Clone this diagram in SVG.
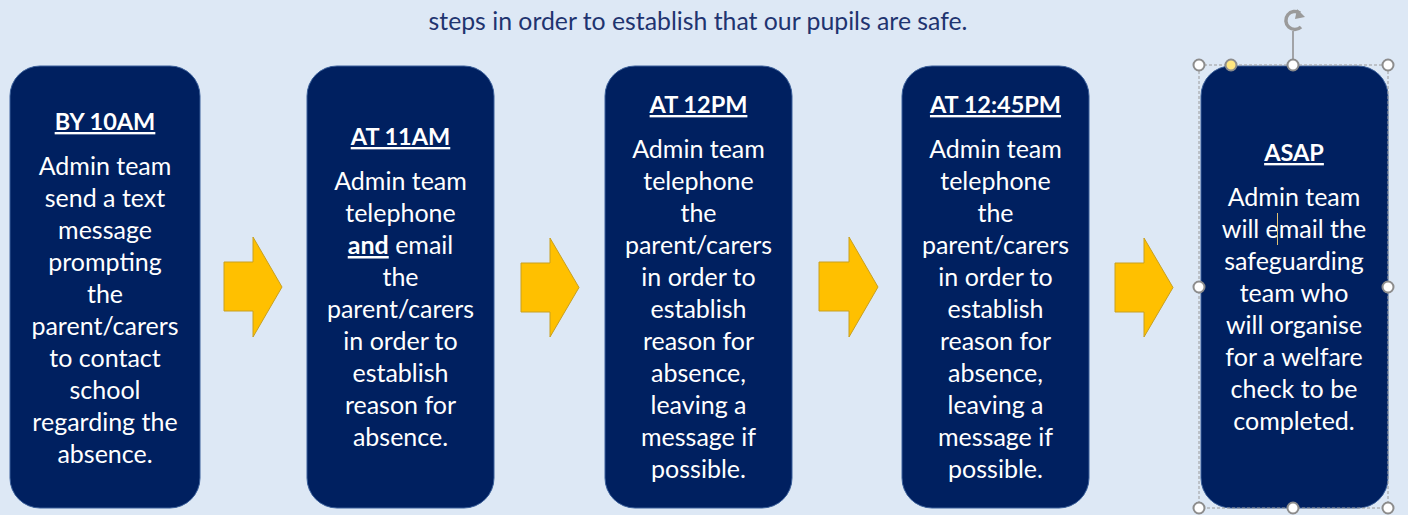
<svg xmlns="http://www.w3.org/2000/svg" width="1408" height="515" viewBox="0 0 1408 515">
<style>
.bg{fill:#dde8f5}
.box{fill:#002060;stroke:#3a5f9a;stroke-width:1}
.arrow{fill:#ffc000;stroke:#c8a020;stroke-width:1}
.t{font-family:Lato,"Open Sans",sans-serif;font-size:25px;fill:#ffffff;text-anchor:middle}
.h{font-weight:bold;text-decoration:underline;font-size:23.5px}
.u{font-weight:bold;text-decoration:underline}
.top{font-family:Lato,"Open Sans",sans-serif;font-size:24.8px;fill:#1f3470;text-anchor:middle}
.sel{fill:none;stroke:#9a9a9a;stroke-width:1;stroke-dasharray:3 2}
.hd{fill:#ffffff;stroke:#8c8c8c;stroke-width:2}
</style>
<rect class="bg" x="0" y="0" width="1408" height="515"/>
<text class="top" x="698" y="30">steps in order to establish that our pupils are safe.</text>

<g id="node1">
<rect class="box" x="10" y="66" width="190" height="442" rx="30"/>
<text class="t"><tspan class="h" x="105" y="130">BY 10AM</tspan><tspan x="105" y="175">Admin team</tspan><tspan x="105" y="207">send a text</tspan><tspan x="105" y="239">message</tspan><tspan x="105" y="271">prompting</tspan><tspan x="105" y="303">the</tspan><tspan x="105" y="335">parent/carers</tspan><tspan x="105" y="367">to contact</tspan><tspan x="105" y="399">school</tspan><tspan x="105" y="431">regarding the</tspan><tspan x="105" y="463">absence.</tspan></text>
</g>

<g id="node2">
<rect class="box" x="307" y="66" width="187" height="442" rx="30"/>
<text class="t"><tspan class="h" x="400.5" y="145">AT 11AM</tspan><tspan x="400.5" y="190">Admin team</tspan><tspan x="400.5" y="222">telephone</tspan><tspan x="400.5" y="254"><tspan class="u">and</tspan> email</tspan><tspan x="400.5" y="286">the</tspan><tspan x="400.5" y="318">parent/carers</tspan><tspan x="400.5" y="350">in order to</tspan><tspan x="400.5" y="382">establish</tspan><tspan x="400.5" y="414">reason for</tspan><tspan x="400.5" y="446">absence.</tspan></text>
</g>

<g id="node3">
<rect class="box" x="605" y="66" width="187" height="442" rx="30"/>
<text class="t"><tspan class="h" x="698.5" y="113">AT 12PM</tspan><tspan x="698.5" y="158">Admin team</tspan><tspan x="698.5" y="190">telephone</tspan><tspan x="698.5" y="222">the</tspan><tspan x="698.5" y="254">parent/carers</tspan><tspan x="698.5" y="286">in order to</tspan><tspan x="698.5" y="318">establish</tspan><tspan x="698.5" y="350">reason for</tspan><tspan x="698.5" y="382">absence,</tspan><tspan x="698.5" y="414">leaving a</tspan><tspan x="698.5" y="446">message if</tspan><tspan x="698.5" y="478">possible.</tspan></text>
</g>

<g id="node4">
<rect class="box" x="902" y="66" width="187" height="442" rx="30"/>
<text class="t"><tspan class="h" x="995.5" y="113">AT 12:45PM</tspan><tspan x="995.5" y="158">Admin team</tspan><tspan x="995.5" y="190">telephone</tspan><tspan x="995.5" y="222">the</tspan><tspan x="995.5" y="254">parent/carers</tspan><tspan x="995.5" y="286">in order to</tspan><tspan x="995.5" y="318">establish</tspan><tspan x="995.5" y="350">reason for</tspan><tspan x="995.5" y="382">absence,</tspan><tspan x="995.5" y="414">leaving a</tspan><tspan x="995.5" y="446">message if</tspan><tspan x="995.5" y="478">possible.</tspan></text>
</g>

<g id="node5">
<rect class="box" x="1201" y="66" width="187" height="442" rx="30"/>
<text class="t"><tspan class="h" x="1294" y="161">ASAP</tspan><tspan x="1294" y="206">Admin team</tspan><tspan x="1294" y="238">will email the</tspan><tspan x="1294" y="270">safeguarding</tspan><tspan x="1294" y="302">team who</tspan><tspan x="1294" y="334">will organise</tspan><tspan x="1294" y="366">for a welfare</tspan><tspan x="1294" y="398">check to be</tspan><tspan x="1294" y="430">completed.</tspan></text>
<line x1="1277.5" y1="213" x2="1277.5" y2="245" stroke="#e0c070" stroke-width="1"/>
</g>

<g id="connectors">
<polygon class="arrow" points="224,262 253,262 253,237 282,287 253,337 253,311 224,311"/>
<polygon class="arrow" points="521,263 550,263 550,238 579,287.5 550,337 550,312 521,312"/>
<polygon class="arrow" points="819,262 849,262 849,237 878,287 849,337 849,311 819,311"/>
<polygon class="arrow" points="1115,263 1144,263 1144,238 1173,287.5 1144,337 1144,312 1115,312"/>
</g>

<g id="selection">
<rect class="sel" x="1199" y="65" width="189" height="443"/>
<line x1="1293" y1="31" x2="1293" y2="59" stroke="#8c8c8c" stroke-width="1.5"/>
<path d="M1301,27 A9,9 0 1 1 1300,13" fill="none" stroke="#9a9a9a" stroke-width="3.5"/>
<path d="M1297,9 L1305,17 L1295,19 Z" fill="#9a9a9a"/>
<circle class="hd" cx="1199" cy="65" r="5.5"/>
<circle class="hd" cx="1293" cy="65" r="5.5"/>
<circle class="hd" cx="1388" cy="65" r="5.5"/>
<circle class="hd" cx="1199" cy="287" r="5.5"/>
<circle class="hd" cx="1388" cy="287" r="5.5"/>
<circle class="hd" cx="1199" cy="508" r="5.5"/>
<circle class="hd" cx="1293" cy="508" r="5.5"/>
<circle class="hd" cx="1388" cy="508" r="5.5"/>
<circle cx="1231" cy="65" r="5.5" fill="#ffe680" stroke="#8c8c8c" stroke-width="2"/>
</g>
</svg>
